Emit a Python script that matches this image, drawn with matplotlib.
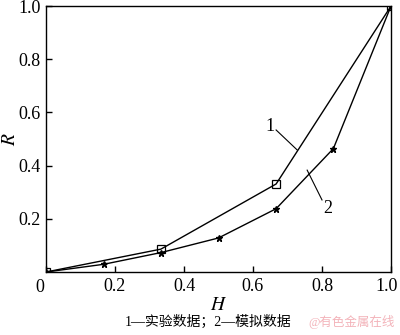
import matplotlib.pyplot as plt
import matplotlib.transforms as mtransforms

plt.rcParams['font.family'] = ['Liberation Serif', 'Noto Sans CJK SC']
plt.rcParams['mathtext.fontset'] = 'stix'

# data
h_exp = [0.0, 0.333, 0.667, 1.0]
r_exp = [0.0, 0.086, 0.331, 1.0]
h_sim = [0.0, 0.167, 0.333, 0.5, 0.667, 0.833, 1.0]
r_sim = [0.0, 0.029, 0.073, 0.128, 0.238, 0.464, 1.0]
xticks = [0.0, 0.2, 0.4, 0.6, 0.8, 1.0]
xlabels = ['', '0.2', '0.4', '0.6', '0.8', '1.0']
yticks = [0.2, 0.4, 0.6, 0.8, 1.0]
ylabels = ['0.2', '0.4', '0.6', '0.8', '1.0']

fig = plt.figure(figsize=(4, 3.35), dpi=100)
ax = fig.add_axes([0.115, 0.188, 0.8625, 0.794])

ax.plot(h_exp, r_exp, '-', color='black', lw=1.0, marker='s', ms=6,
        mfc='none', mec='black', mew=0.9)
ax.plot(h_sim, r_sim, '-', color='black', lw=1.0, marker='*', ms=5,
        mfc='black', mec='black')

ax.set_xlim(0, 1.0)
ax.set_ylim(0, 1.0)
ax.set_xticks(xticks)
ax.set_xticklabels(xlabels)
ax.set_yticks(yticks)
ax.set_yticklabels(ylabels)
ax.tick_params(direction='in', length=4, width=1, labelsize=13, pad=4,
               top=False, right=False)
for s in ax.spines.values():
    s.set_linewidth(1.0)

# keep the last x label inside the figure
last = ax.get_xticklabels()[-1]
last.set_transform(last.get_transform() +
                   mtransforms.ScaledTranslation(-4 / 100, 0, fig.dpi_scale_trans))

# origin label
ax.text(-0.018, -0.025, '0', fontsize=13, ha='center', va='top')

ax.set_xlabel('$H$', fontsize=14, labelpad=2)
ax.set_ylabel('$R$', fontsize=14, labelpad=-1)

# curve labels with leader lines
ax.plot([0.667, 0.728], [0.534, 0.459], color='black', lw=0.8)
ax.text(0.649, 0.548, '1', fontsize=13, ha='center', va='center')
ax.plot([0.757, 0.800], [0.383, 0.271], color='black', lw=0.8)
ax.text(0.816, 0.238, '2', fontsize=13, ha='center', va='center')

fig.text(0.52, 0.038, '1—实验数据；2—模拟数据', fontsize=10,
         ha='center', va='center')
fig.text(0.88, 0.038, '@有色金属在线', fontsize=9, color='#f0a0a8',
         ha='center', va='center', alpha=0.8)

fig.savefig('out.png', dpi=100)
